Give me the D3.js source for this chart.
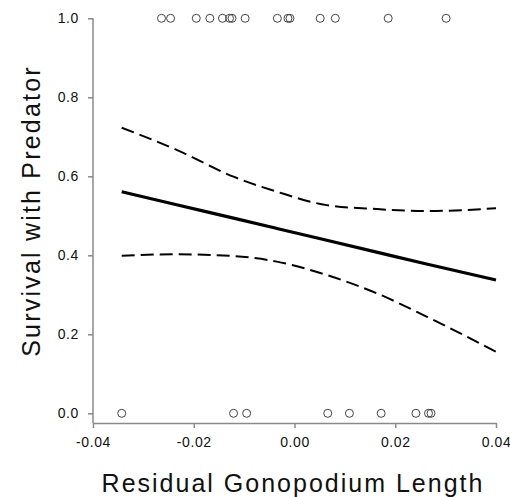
<!DOCTYPE html>
<html>
<head>
<meta charset="utf-8">
<script src="https://cdn.jsdelivr.net/npm/d3@7"></script>
<style>
  body { margin: 0; background: #fff; }
  text { font-family: "Liberation Sans", Arial, sans-serif; }
</style>
</head>
<body>
<script>
// tick values
const xTicks = [-0.04, -0.02, 0.00, 0.02, 0.04];
const yTicks = [0.0, 0.2, 0.4, 0.6, 0.8, 1.0];

// observed fish: x = residual gonopodium length
const survivedX = [-0.0264, -0.0246, -0.0195, -0.0168, -0.0143, -0.0129, -0.0124, -0.0098,
  -0.0034, -0.0013, -0.0009, 0.0051, 0.0081, 0.0186, 0.0301];
const diedX = [-0.0343, -0.0121, -0.0095, 0.0066, 0.0109, 0.0172, 0.0241, 0.0266, 0.0271];

// fitted logistic curve and 95% CI
const fitX = [-0.0343, -0.0234, -0.0121, -0.0035, 0.0064, 0.0163, 0.0262, 0.04];
const fitY = [0.561, 0.528, 0.494, 0.468, 0.438, 0.408, 0.378, 0.3375];
const upperY = [0.723, 0.667, 0.599, 0.561, 0.527, 0.517, 0.512, 0.519];
const lowerY = [0.399, 0.4025, 0.398, 0.384, 0.350, 0.304, 0.245, 0.156];

const width = 510, height = 497;
const axisColor = '#8a8a8a';

const svg = d3.select('body').append('svg')
  .attr('width', width)
  .attr('height', height);

const xScale = d3.scaleLinear().domain([-0.04, 0.04]).range([93, 496]);
const yScale = d3.scaleLinear().domain([0, 1]).range([413.3, 18.3]);
const xAxisY = 423;

// x axis
let xAxis = svg.append('g')
  .attr('transform', 'translate(0,' + xAxisY + ')')
  .call(d3.axisBottom(xScale)
    .tickValues(xTicks)
    .tickSize(5)
    .tickSizeOuter(0)
    .tickPadding(9)
    .tickFormat(d3.format('.2f')))
xAxis.select('.domain').attr('stroke', axisColor).attr('stroke-width', 1.5)
xAxis.selectAll('.tick line').attr('stroke', axisColor).attr('stroke-width', 1.5)
xAxis.selectAll('.tick text')
  .attr('fill', '#111')
  .style('font-size', '14px')
  .style('letter-spacing', '0.6px')
  .style('font-family', '"Liberation Sans", Arial, sans-serif')
  .text(d => d3.format('.2f')(d).replace('−', '-'))

// y axis
let yAxis = svg.append('g')
  .attr('transform', 'translate(93,0)')
  .call(d3.axisLeft(yScale)
    .tickValues(yTicks)
    .tickSize(5)
    .tickSizeOuter(0)
    .tickPadding(9)
    .tickFormat(d3.format('.1f')))
yAxis.select('.domain').remove()
yAxis.append('line')
  .attr('x1', 0).attr('x2', 0)
  .attr('y1', yScale(1)).attr('y2', xAxisY)
  .attr('stroke', axisColor)
  .attr('stroke-width', 1.5)
yAxis.selectAll('.tick line').attr('stroke', axisColor).attr('stroke-width', 1.5)
yAxis.selectAll('.tick text')
  .attr('fill', '#111')
  .style('font-size', '14px')
  .style('letter-spacing', '0.6px')
  .style('font-family', '"Liberation Sans", Arial, sans-serif')

// axis titles
svg.append('text')
  .attr('x', 293)
  .attr('y', 492)
  .attr('text-anchor', 'middle')
  .style('font-size', '25px')
  .style('letter-spacing', '2px')
  .attr('fill', '#111')
  .text('Residual Gonopodium Length')

svg.append('text')
  .attr('transform', 'translate(40,' + 211 + ') rotate(-90)')
  .attr('text-anchor', 'middle')
  .style('font-size', '25px')
  .style('letter-spacing', '2.2px')
  .attr('fill', '#111')
  .text('Survival with Predator')

// curves
const line = d3.line()
  .x(d => xScale(d[0]))
  .y(d => yScale(d[1]))
  .curve(d3.curveMonotoneX)

svg.append('path')
  .datum(fitX.map((x, i) => [x, upperY[i]]))
  .attr('d', line)
  .attr('fill', 'none')
  .attr('stroke', '#000')
  .attr('stroke-width', 2)
  .attr('stroke-dasharray', '13,6')

svg.append('path')
  .datum(fitX.map((x, i) => [x, lowerY[i]]))
  .attr('d', line)
  .attr('fill', 'none')
  .attr('stroke', '#000')
  .attr('stroke-width', 2)
  .attr('stroke-dasharray', '13,6')

svg.append('path')
  .datum(fitX.map((x, i) => [x, fitY[i]]))
  .attr('d', line)
  .attr('fill', 'none')
  .attr('stroke', '#000')
  .attr('stroke-width', 3.2)

// points
svg.append('g')
  .selectAll('circle')
  .data(survivedX.map(x => [x, 1]).concat(diedX.map(x => [x, 0])))
  .enter()
  .append('circle')
  .attr('cx', d => xScale(d[0]))
  .attr('cy', d => yScale(d[1]))
  .attr('r', 4)
  .attr('fill', 'none')
  .attr('stroke', '#444')
  .attr('stroke-width', 1)
</script>
</body>
</html>
